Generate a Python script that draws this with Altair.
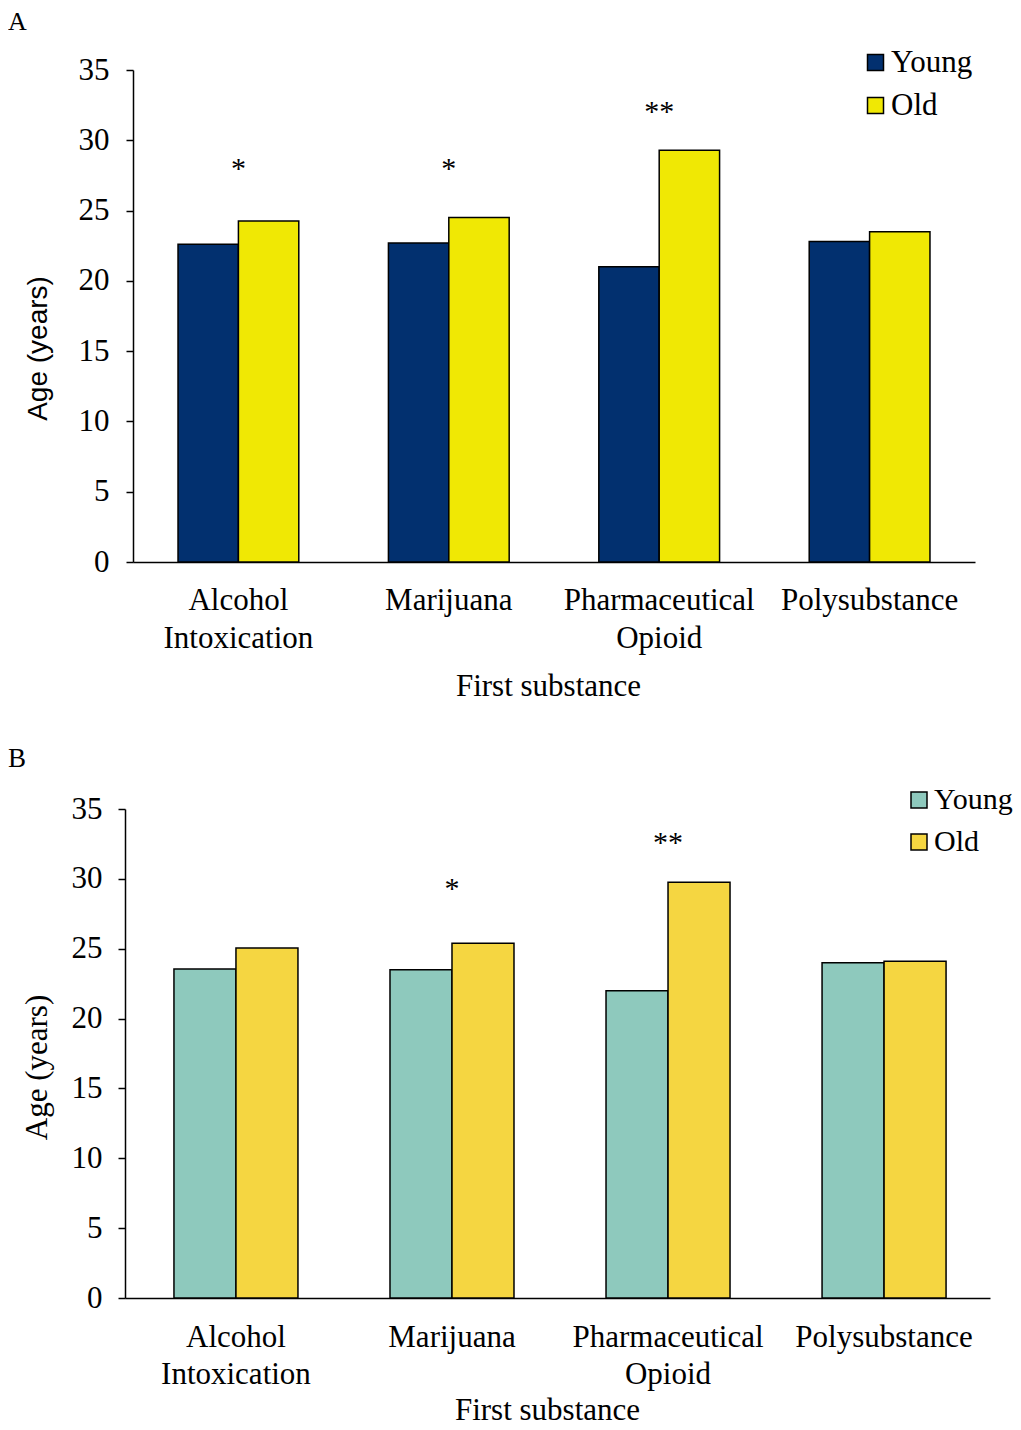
import altair as alt
import pandas as pd

categories = ["Alcohol Intoxication", "Marijuana", "Pharmaceutical Opioid", "Polysubstance"]
groups = ["Young", "Old"]

a_young = [22.6, 22.7, 21.0, 22.8]
a_old = [24.25, 24.5, 29.3, 23.5]
b_young = [23.55, 23.5, 22.0, 24.0]
b_old = [25.05, 25.4, 29.75, 24.1]

a_marks = ["*", "*", "**", ""]
a_mark_y = [27.3, 27.3, 31.4, None]
b_marks = ["", "*", "**", ""]
b_mark_y = [None, 28.6, 31.9, None]

a_colors = ["#02306F", "#F0E804"]
b_colors = ["#8EC9BD", "#F5D641"]

y_ticks = [0, 5, 10, 15, 20, 25, 30, 35]

SERIF = "Liberation Serif"
SANS = "Liberation Sans"
FS = 31

label_expr = ("datum.value == 'Alcohol Intoxication' ? ['Alcohol', 'Intoxication'] : "
              "datum.value == 'Pharmaceutical Opioid' ? ['Pharmaceutical', 'Opioid'] : datum.value")


def panel(young, old, marks, mark_y, colors, letter, cfg):
    rows = []
    for c, yv, ov in zip(categories, young, old):
        rows.append({"cat": c, "group": "Young", "age": yv})
        rows.append({"cat": c, "group": "Old", "age": ov})
    df = pd.DataFrame(rows)
    sdf = pd.DataFrame({"cat": categories, "mark": marks, "my": mark_y}).dropna()
    sdf = sdf[sdf["mark"] != ""]

    sc = dict(paddingInner=0.426, paddingOuter=cfg["po"], align=cfg["al"])
    if cfg.get("rng"):
        sc["range"] = cfg["rng"]
    xscale = alt.Scale(**sc)
    bars = alt.Chart(df).mark_bar(stroke="black", strokeWidth=1.5).encode(
        x=alt.X("cat:N", sort=categories, scale=xscale, title="First substance",
                axis=alt.Axis(labelAngle=0, ticks=False, labelPadding=cfg["lp"],
                              labelExpr=label_expr, labelLineHeight=cfg["lh"],
                              labelFont=SERIF, labelFontSize=FS, labelColor="black",
                              labelLimit=0, labelOverlap=False,
                              titleFont=SERIF, titleFontSize=FS, titleFontWeight="normal",
                              titleColor="black", titlePadding=cfg["tp"], titleX=cfg["tx"],
                              domainColor="black", domainWidth=1.5)),
        xOffset=alt.XOffset("group:N", sort=groups,
                            scale=alt.Scale(paddingInner=0, paddingOuter=0)),
        y=alt.Y("age:Q", scale=alt.Scale(domain=[0, 35], nice=False, zero=True),
                title="Age (years)",
                axis=alt.Axis(values=y_ticks, grid=False, tickSize=7, tickColor="black",
                              tickWidth=1.5, labelPadding=cfg["ylp"], labelFont=SERIF,
                              labelFontSize=FS, labelColor="black", labelOverlap=False,
                              offset=cfg["yoff"],
                              titleFont=cfg["ytf"], titleFontSize=cfg["ytfs"],
                              titleFontWeight="normal", titleColor="black",
                              titlePadding=cfg["ytp"], titleY=cfg["ty"],
                              domainColor="black", domainWidth=1.5)),
        color=alt.Color("group:N", sort=groups,
                        scale=alt.Scale(domain=groups, range=colors),
                        legend=alt.Legend(orient="none", legendX=cfg["lx"], legendY=cfg["ly"],
                                          title=None, labelFont=SERIF, labelFontSize=cfg["lgfs"],
                                          labelColor="black", symbolType="square",
                                          symbolSize=256, symbolStrokeColor="black",
                                          symbolStrokeWidth=1.5, symbolOpacity=1,
                                          rowPadding=cfg["rp"], labelOffset=0, padding=0)),
    )
    stars = alt.Chart(sdf).mark_text(font=SERIF, fontSize=30, baseline="alphabetic",
                                     color="black").encode(
        x=alt.X("cat:N", sort=categories),
        y=alt.Y("my:Q"),
        text="mark:N",
    )
    lab = alt.Chart(pd.DataFrame({"t": [letter]})).mark_text(
        font=SERIF, fontSize=cfg["lfs"], align="left", baseline="top", color="black"
    ).encode(x=alt.value(cfg["letx"]), y=alt.value(cfg["lety"]), text="t:N")
    return alt.layer(bars, stars, lab).properties(width=cfg["w"], height=cfg["h"])


cfg_a = dict(po=0.214, al=0.5, rng=[8, 850], lp=23, lh=38, tp=18, tx=423, ylp=17, yoff=-8,
             ytf=SANS, ytfs=28, ytp=26, ty=278, lgfs=31,
             lx=735, ly=-23, rp=11, lfs=26, letx=-117, lety=-61.5, w=850, h=492)
cfg_b = dict(po=0.215, al=0.527, rng=None, lp=24, lh=37, tp=6, tx=422, ylp=16, yoff=0,
             ytf=SERIF, ytfs=31, ytp=17.5, ty=258, lgfs=30,
             lx=779, ly=-24, rp=12, lfs=27, letx=-117, lety=-63, w=865, h=489)

pa = panel(a_young, a_old, a_marks, a_mark_y, a_colors, "A", cfg_a)
pb = panel(b_young, b_old, b_marks, b_mark_y, b_colors, "B", cfg_b)

chart = alt.concat(pa, pb, columns=1, spacing=44).resolve_scale(
    color="independent", x="independent", y="independent", xOffset="independent"
).properties(
    align="none",
    padding={"left": 0, "top": 0, "right": 0, "bottom": 0},
    background="white",
).configure_view(stroke=None)

chart.save("out.html", embed_options={"renderer": "svg", "actions": False})
